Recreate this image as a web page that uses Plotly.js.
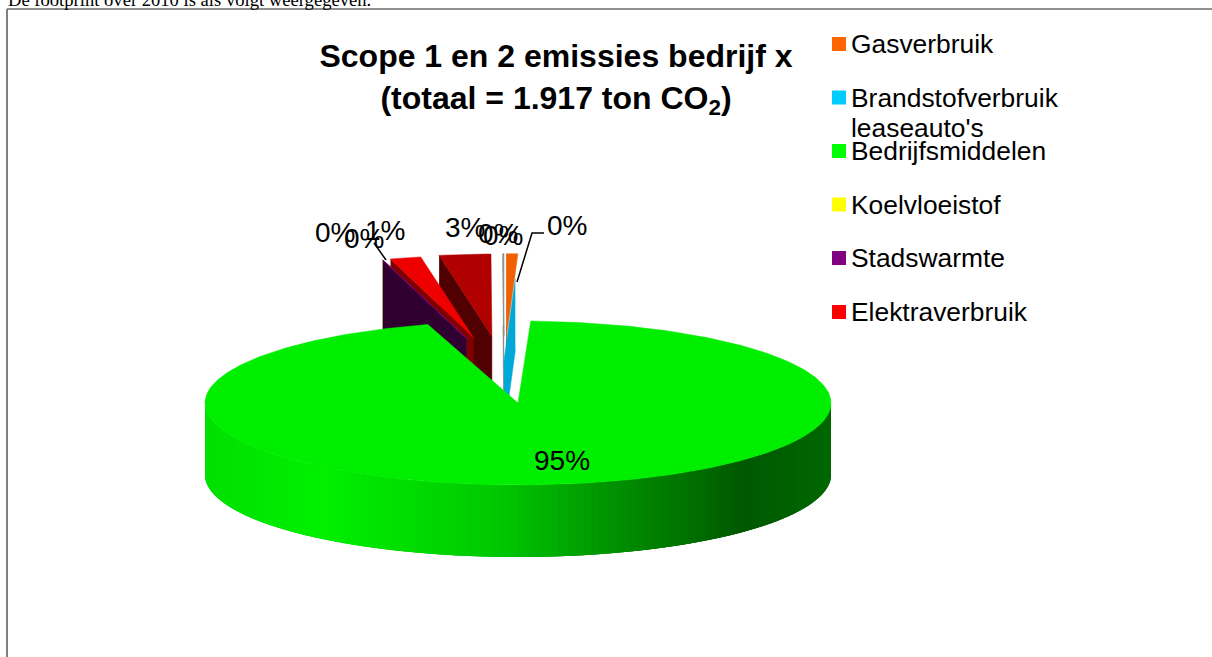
<!DOCTYPE html>
<html>
<head>
<meta charset="utf-8">
<script src="https://cdn.plot.ly/plotly-3.0.1.min.js"></script>
<style>html,body{margin:0;padding:0;background:#fff;overflow:hidden}#chart{width:1212px;height:657px}</style>
</head>
<body>
<div id="chart"></div>
<script>
// ---- data (share of total, %) ----
const categories = ['Gasverbruik', 'Brandstofverbruik<br>leaseauto\'s', 'Bedrijfsmiddelen', 'Koelvloeistof', 'Stadswarmte', 'Elektraverbruik', 'Overig 1', 'Overig 2'];
const shares = [0.62, 0.03, 94.7, 0.01, 0.04, 1.7, 2.85, 0.05];
const shareLabels = ['0%', '0%', '95%', '0%', '0%', '1%', '3%', '0%'];
const legendCount = 6;
const topColors  = ['#F06000', '#00A8D8', '#00EE00', '#EEEE00', '#800080', '#EE0000', '#B00000', '#909090'];
const wallColors = ['#A04000', '#00A8D8', '#006000', '#808000', '#300030', '#800000', '#500000', '#808080'];
const swatchColors = ['#FF6600', '#00CCFF', '#00FF00', '#FFFF00', '#800080', '#FF0000'];

// ---- pie geometry (pixels, y down) ----
const P = {cx: 518, cy: 403, rx: 313, ry: 82, depth: 72, tipX: 504, tipY: 403, farScale: 0.93};
const pullX = [0.418, 0, 0, 0.418, 0.418, 0.418, 0.418, 0.418];
const pullY = [0.82, 0.52, 0, 0.82, 0.82, 0.82, 0.82, 0.82];
const rad = d => d * Math.PI / 180;
const total = shares.reduce((a, b) => a + b, 0);
let acc = 0;
const slices = shares.map((v, i) => {
  const a0 = acc / total * 360; acc += v; const a1 = acc / total * 360;
  return {i, a0, a1, mid: (a0 + a1) / 2};
});
const arc = (c, r0, r1, a0, a1) => {
  const n = Math.max(2, Math.ceil((a1 - a0) / 1)); const xs = [], ys = [];
  for (let k = 0; k <= n; k++) { const t = rad(a0 + (a1 - a0) * k / n); xs.push(c.x + r0 * Math.sin(t)); ys.push(c.y - r1 * Math.cos(t)); }
  return [xs, ys];
};
const poly = (xs, ys, fill, line, w) => ({type: 'scatter', mode: 'lines', x: xs, y: ys, fill: 'toself', fillcolor: fill,
  line: {color: line || fill, width: w === undefined ? 0.5 : w}, hoverinfo: 'skip', showlegend: false});

const traces = [];
// exploded small slices, back to front
[6, 7, 0, 5, 3, 4, 1].forEach(i => {
  const s = slices[i];
  const mid = rad(s.mid > 180 ? s.mid - 360 : s.mid);
  const a0 = s.a0, a1 = s.a1;
  const tip = {x: P.tipX + pullX[i] * P.rx * Math.sin(mid), y: P.tipY - pullY[i] * P.ry * Math.cos(mid)};
  const rx = P.rx * P.farScale, ry = P.ry;
  const [ax, ay] = arc(tip, rx, ry, a0, a1);
  // radial wall on the left edge of the wedge, extruded downward
  traces.push(poly([ax[0], tip.x, tip.x, ax[0]], [ay[0], tip.y, tip.y + P.depth, ay[0] + P.depth], wallColors[i], wallColors[i]));
  if (i !== 1) traces.push(poly([tip.x, ...ax, tip.x], [tip.y, ...ay, tip.y], topColors[i], topColors[i], i === 7 || i === 4 ? 1 : 0.5));
});

// big slice: shaded rim, then top face
const big = slices[2];
const C = {x: P.cx, y: P.cy};
const stops = [[205, [0, 224, 0]], [310, [0, 240, 0]], [480, [0, 200, 0]], [600, [0, 144, 0]], [731, [0, 88, 0]], [831, [0, 104, 0]]];
const shade = x => {
  for (let k = 1; k < stops.length; k++) if (x <= stops[k][0]) {
    const f = (x - stops[k - 1][0]) / (stops[k][0] - stops[k - 1][0]);
    const c = stops[k - 1][1].map((v, j) => Math.round(v + (stops[k][1][j] - v) * f));
    return `rgb(${c[0]},${c[1]},${c[2]})`;
  }
  return 'rgb(0,104,0)';
};
// each rim strip runs past the next one, which paints over it, so no seams show
const step = 1.5;
for (let a = 90; a < 270; a += step) {
  const [x, y] = arc(C, P.rx, P.ry, Math.max(a - 2 * step, 90), a + step);
  const xs = [...x, ...x.slice().reverse()];
  const ys = [...y, ...y.slice().reverse().map(v => v + P.depth)];
  const mid = arc(C, P.rx, P.ry, a, a + step);
  const col = shade((mid[0][0] + mid[0][mid[0].length - 1]) / 2);
  traces.push(poly(xs, ys, col, col, 0));
}
const [bx, by] = arc(C, P.rx, P.ry, big.a0, big.a1);
traces.push(poly([C.x, ...bx, C.x], [C.y, ...by, C.y], topColors[2], topColors[2]));

// legend, drawn in the reference's spacing
const legendRows = [44, 97.5, 151, 204.5, 258, 312];
traces.push({type: 'scatter', mode: 'markers', x: legendRows.map(() => 839), y: legendRows,
  marker: {symbol: 'square', size: 14, color: swatchColors.slice(0, legendCount), line: {width: 0}}, hoverinfo: 'skip', showlegend: false});

const FONT = 'Liberation Sans, Arial, sans-serif';
const ann = [];
categories.slice(0, legendCount).forEach((c, i) => {
  c.split('<br>').forEach((line, j) => ann.push({xref: 'x', yref: 'y', x: 849, y: legendRows[i] + j * 30, text: line, showarrow: false,
    xanchor: 'left', yanchor: 'middle', font: {family: FONT, size: 26.4, color: '#000'}}));
});
// percentage labels: [slice index, centre x, centre y]
const labelSpots = [[3, 335, 232], [4, 364, 238], [5, 385, 230], [6, 465, 227], [7, 498, 233], [1, 503, 235], [0, 567, 225], [2, 562, 460]];
labelSpots.forEach(([i, x, y]) => ann.push({xref: 'x', yref: 'y', x, y, text: shareLabels[i], showarrow: false,
  xanchor: 'center', yanchor: 'middle', font: {family: FONT, size: 28, color: '#000'}}));
// page sentence, cut by the top edge
ann.push({xref: 'x', yref: 'y', x: 6, y: 12, text: 'De footprint over 2010 is als volgt weergegeven.', showarrow: false,
  xanchor: 'left', yanchor: 'bottom', font: {family: 'Liberation Serif, Times New Roman, serif', size: 18.6, color: '#000'}});

// leader lines
const leaders = [[[386, 260], [374, 243]], [[517, 282], [532, 233], [544, 233]]];
leaders.forEach(l => traces.push({type: 'scatter', mode: 'lines', x: l.map(p => p[0]), y: l.map(p => p[1]),
  line: {color: '#000', width: 1.5}, hoverinfo: 'skip', showlegend: false}));

const layout = {
  width: 1212, height: 657, margin: {l: 0, r: 0, t: 0, b: 0}, paper_bgcolor: '#fff', plot_bgcolor: '#fff', showlegend: false,
  title: {text: 'Scope 1 en 2 emissies bedrijf x<br>(totaal = 1.917 ton CO<sub>2</sub>)', x: 556 / 1212, xanchor: 'center',
    y: 1 - 67 / 657, yanchor: 'top', font: {family: FONT, size: 32, color: '#000', weight: 700}},
  xaxis: {range: [0, 1212], visible: false, fixedrange: true},
  yaxis: {range: [657, 0], visible: false, fixedrange: true},
  annotations: ann,
  shapes: [
    {type: 'line', xref: 'x', yref: 'y', x0: 7, x1: 1212, y0: 9, y1: 9, line: {color: '#222', width: 1}},
    {type: 'line', xref: 'x', yref: 'y', x0: 7, x1: 7, y0: 9, y1: 657, line: {color: '#808080', width: 2}}
  ]
};
Plotly.newPlot('chart', traces, layout, {displayModeBar: false, staticPlot: true});
</script>
</body>
</html>
